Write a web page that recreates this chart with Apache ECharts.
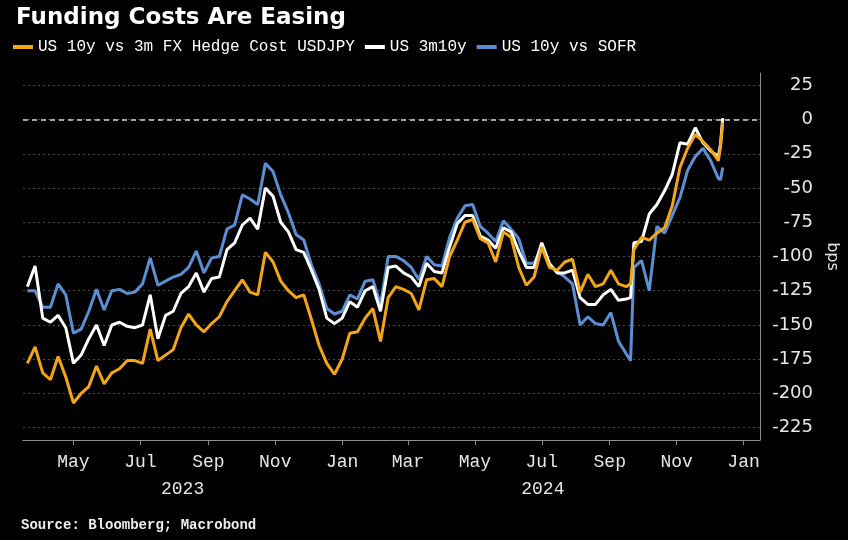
<!DOCTYPE html>
<html><head><meta charset="utf-8">
<script src="https://cdn.jsdelivr.net/npm/echarts@6/dist/echarts.min.js"></script>
<style>html,body{margin:0;padding:0;background:#000}#c{width:848px;height:540px}</style>
</head><body><div id="c"></div>
<script>
const dates = ['2023-03-20','2023-03-27','2023-04-03','2023-04-10','2023-04-17','2023-04-24','2023-05-01','2023-05-08','2023-05-15','2023-05-22','2023-05-29','2023-06-05','2023-06-12','2023-06-19','2023-06-26','2023-07-03','2023-07-10','2023-07-17','2023-07-24','2023-07-31','2023-08-07','2023-08-14','2023-08-21','2023-08-28','2023-09-04','2023-09-11','2023-09-18','2023-09-25','2023-10-02','2023-10-09','2023-10-16','2023-10-23','2023-10-30','2023-11-06','2023-11-13','2023-11-20','2023-11-27','2023-12-04','2023-12-11','2023-12-18','2023-12-25','2024-01-01','2024-01-08','2024-01-15','2024-01-22','2024-01-29','2024-02-05','2024-02-12','2024-02-19','2024-02-26','2024-03-04','2024-03-11','2024-03-18','2024-03-25','2024-04-01','2024-04-08','2024-04-15','2024-04-22','2024-04-29','2024-05-06','2024-05-13','2024-05-20','2024-05-27','2024-06-03','2024-06-10','2024-06-17','2024-06-24','2024-07-01','2024-07-08','2024-07-15','2024-07-22','2024-07-29','2024-08-05','2024-08-12','2024-08-19','2024-08-26','2024-09-02','2024-09-09','2024-09-16','2024-09-20','2024-09-23','2024-09-30','2024-10-07','2024-10-14','2024-10-21','2024-10-28','2024-11-04','2024-11-11','2024-11-18','2024-11-25','2024-12-02','2024-12-09','2024-12-11','2024-12-13'];
const hedgeUSDJPY = [-178,-166,-185,-190,-173,-188,-207,-200,-195,-180,-193,-185,-182,-176,-176,-178,-153,-176,-172,-168,-152,-142,-150,-155,-149,-144,-133,-125,-117,-126,-128,-97,-104,-118,-125,-130,-128,-146,-165,-178,-186,-175,-156,-155,-145,-138,-162,-130,-122,-124,-127,-139,-117,-116,-122,-100,-88,-75,-73,-87,-90,-104,-82,-86,-108,-121,-115,-93,-108,-110,-104,-102,-126,-113,-122,-120,-110,-120,-122,-120,-95,-86,-88,-83,-79,-63,-35,-21,-11,-16,-22,-30,-20,-2];
const us3m10y = [-122,-107,-145,-148,-143,-152,-178,-172,-160,-150,-165,-150,-148,-151,-152,-150,-128,-160,-143,-140,-127,-122,-112,-126,-116,-115,-95,-90,-77,-72,-80,-50,-56,-75,-82,-95,-97,-110,-124,-145,-149,-145,-133,-137,-125,-122,-140,-108,-107,-112,-115,-122,-105,-111,-112,-93,-76,-70,-70,-85,-88,-94,-79,-82,-96,-108,-108,-90,-105,-112,-112,-110,-130,-135,-135,-128,-124,-132,-131,-130,-90,-89,-69,-62,-52,-40,-17,-18,-6,-17,-23,-27,-18,1];
const us10ySOFR = [-125,-125,-137,-137,-120,-128,-156,-153,-140,-124,-139,-125,-124,-127,-126,-120,-101,-121,-118,-115,-113,-108,-96,-112,-101,-100,-80,-77,-55,-58,-62,-32,-38,-55,-68,-84,-88,-106,-120,-138,-142,-140,-128,-131,-118,-117,-135,-100,-100,-103,-108,-117,-100,-106,-107,-86,-72,-63,-62,-78,-83,-89,-74,-80,-87,-105,-105,-93,-106,-111,-115,-120,-150,-144,-149,-150,-141,-162,-171,-176,-108,-103,-125,-78,-83,-70,-57,-37,-27,-21,-30,-43,-44,-35];
const seriesNames = ['US 10y vs 3m FX Hedge Cost USDJPY','US 3m10y','US 10y vs SOFR'];
const monthTicks = ['2023-05-01','2023-07-01','2023-09-01','2023-11-01','2024-01-01','2024-03-01','2024-05-01','2024-07-01','2024-09-01','2024-11-01','2025-01-01'];
const monthNames = ['Jan','Feb','Mar','Apr','May','Jun','Jul','Aug','Sep','Oct','Nov','Dec'];
const yTicks = [-225,-200,-175,-150,-125,-100,-75,-50,-25,0,25];
const years = ['2023','2024'];
const xRange = ['2023-03-16','2025-01-16'];
const yRange = [-234,34];
const zeroLine = 0;

function parseD(s){const p=s.split('-').map(Number);return Date.UTC(p[0],p[1]-1,p[2]);}
const xMin = parseD(xRange[0]), xMax = parseD(xRange[1]);
const yearMids = years.map(y=>{
  const a = Math.max(parseD(y+'-01-01'), xMin);
  const b = Math.min(parseD((+y+1)+'-01-01'), xMax);
  return (a+b)/2;
});
const monthVals = monthTicks.map(parseD);
function pairs(vals){return dates.map((d,i)=>[parseD(d),vals[i]]);}

const colors = ['#F4A516','#FFFFFF','#5B8FD3'];
const labelColor = '#E6E6E6';
const chart = echarts.init(document.getElementById('c'), null, {renderer:'canvas'});
chart.setOption({
  backgroundColor:'#000',
  animation:false,
  title:[
    {text:'Funding Costs Are Easing', left:11, top:2,
     textStyle:{color:'#fff', fontFamily:'DejaVu Sans', fontWeight:'bold', fontSize:23}},
    {text:'Source: Bloomberg; Macrobond', left:16, top:513,
     textStyle:{color:'#EEE', fontFamily:'Liberation Mono', fontWeight:'bold', fontSize:14}}
  ],
  legend:{
    left:13, top:39, padding:0, icon:'rect', itemWidth:20, itemHeight:4, itemGap:10,
    textStyle:{color:'#fff', fontFamily:'Liberation Mono', fontSize:16},
    data:seriesNames
  },
  grid:{left:23, right:88, top:73, bottom:100, containLabel:false},
  xAxis:[{
    type:'value', min:xMin, max:xMax, scale:true,
    axisLine:{show:true, onZero:false, lineStyle:{color:'#8C8C8C', width:1}},
    axisTick:{show:true, length:5, inside:false, customValues:monthVals, lineStyle:{color:'#8C8C8C'}},
    splitLine:{show:false},
    axisLabel:{customValues:monthVals, color:labelColor, fontFamily:'Liberation Mono', fontSize:18, margin:13,
      formatter:function(v){return monthNames[new Date(v).getUTCMonth()];}}
  },{
    type:'value', min:xMin, max:xMax, scale:true, position:'bottom', gridIndex:0,
    axisLine:{show:false, onZero:false}, axisTick:{show:false, customValues:yearMids}, splitLine:{show:false},
    axisLabel:{customValues:yearMids, color:labelColor, fontFamily:'Liberation Mono', fontSize:18, margin:40,
      formatter:function(v){return String(new Date(v).getUTCFullYear());}}
  }],
  yAxis:{
    type:'value', position:'right', min:yRange[0], max:yRange[1],
    name:'bps', nameLocation:'middle', nameRotate:-90, nameGap:53,
    nameTextStyle:{color:labelColor, fontFamily:'DejaVu Sans', fontSize:16},
    axisLine:{show:true, lineStyle:{color:'#8C8C8C', width:1}},
    axisTick:{show:false, customValues:yTicks},
    axisLabel:{customValues:yTicks, color:labelColor, fontFamily:'DejaVu Sans', fontSize:18, align:'right', margin:53},
    splitLine:{show:true, lineStyle:{color:'#4A4A4A', type:[2,3], width:1}}
  },
  series:[
    {name:seriesNames[0], type:'line', data:pairs(hedgeUSDJPY), showSymbol:false, z:5,
     lineStyle:{color:colors[0], width:3}, itemStyle:{color:colors[0]}},
    {name:seriesNames[1], type:'line', data:pairs(us3m10y), showSymbol:false, z:4,
     lineStyle:{color:colors[1], width:3}, itemStyle:{color:colors[1]}},
    {name:seriesNames[2], type:'line', data:pairs(us10ySOFR), showSymbol:false, z:3,
     lineStyle:{color:colors[2], width:3}, itemStyle:{color:colors[2]},
     markLine:{silent:true, symbol:'none', label:{show:false},
       lineStyle:{color:'#D8D8D8', type:[5,4], width:1.5}, data:[{yAxis:zeroLine}]}}
  ]
});
</script></body></html>
